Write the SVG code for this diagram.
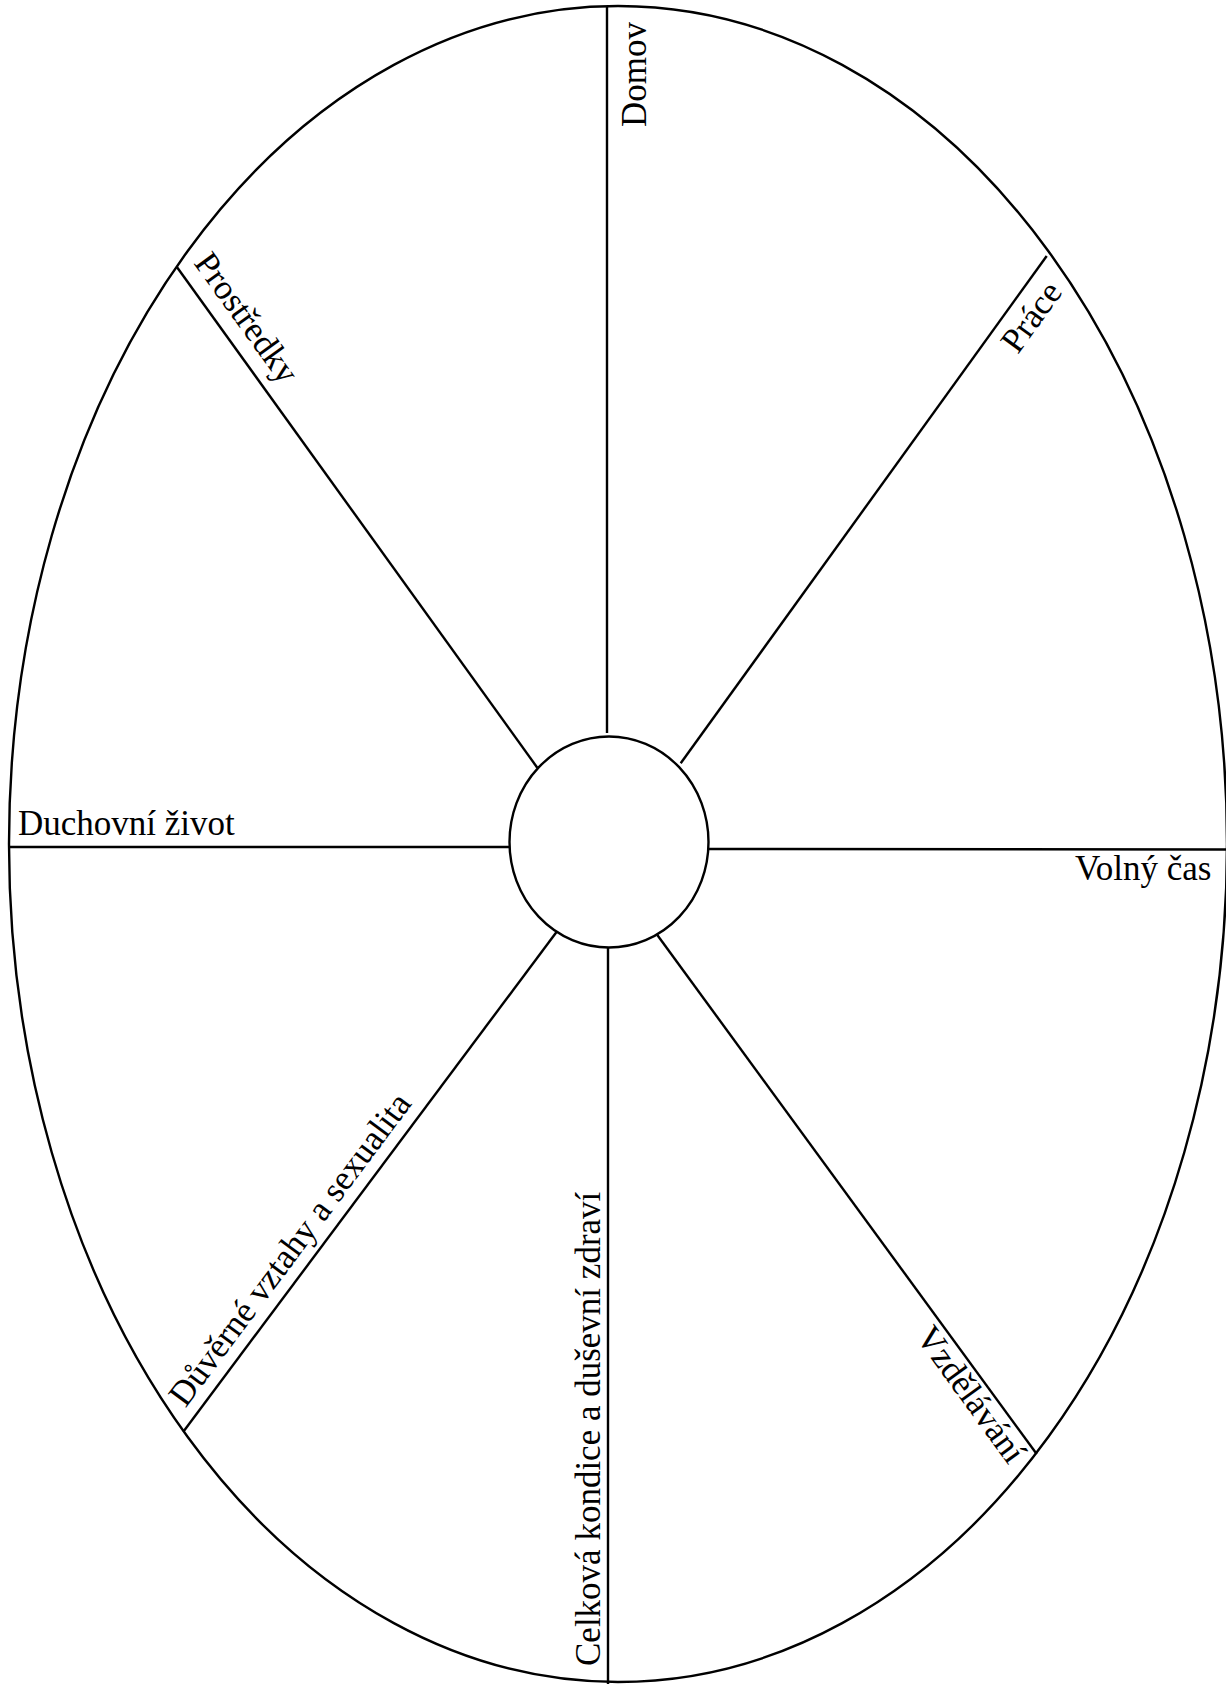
<svg xmlns="http://www.w3.org/2000/svg" width="1226" height="1684" viewBox="0 0 1226 1684">
<style>
.ln{stroke:#000;stroke-width:2.4;fill:none}
.lbl{font-family:"Liberation Serif","Times New Roman",serif;font-size:35px;fill:#000}
</style>
<rect width="1226" height="1684" fill="#fff"/>
<g id="outer"><ellipse class="ln" cx="618" cy="844" rx="609" ry="838"/></g>
<g id="connectors">
<line class="ln" x1="607" y1="7" x2="607" y2="733"/>
<line class="ln" x1="608" y1="947" x2="608" y2="1684"/>
<line class="ln" x1="9" y1="847" x2="509" y2="847"/>
<line class="ln" x1="708" y1="849" x2="1226" y2="849.5"/>
<line class="ln" x1="176.7" y1="266.7" x2="537.3" y2="767.7"/>
<line class="ln" x1="1046.7" y1="256" x2="680.7" y2="763.3"/>
<line class="ln" x1="657.3" y1="935" x2="1036.7" y2="1454"/>
<line class="ln" x1="556.7" y1="931.7" x2="183.3" y2="1431.7"/>
</g>
<g id="center"><ellipse class="ln" cx="609" cy="842" rx="99.5" ry="105.5" fill="#fff"/></g>
<g id="domov"><text class="lbl" transform="translate(646,127) rotate(-90)">Domov</text></g>
<g id="prace"><text class="lbl" text-anchor="middle" transform="translate(1040.5,323.5) rotate(-54)">Práce</text></g>
<g id="volny-cas"><text class="lbl" x="1075" y="880">Volný čas</text></g>
<g id="vzdelavani"><text class="lbl" text-anchor="end" transform="translate(1008.7,1465.7) rotate(54)">Vzdělávání</text></g>
<g id="celkova"><text class="lbl" transform="translate(600,1666) rotate(-90)">Celková kondice a duševní zdraví</text></g>
<g id="duverne"><text class="lbl" transform="translate(185.4,1408.4) rotate(-53.3)">Důvěrné vztahy a sexualita</text></g>
<g id="duchovni"><text class="lbl" x="18" y="835">Duchovní život</text></g>
<g id="prostredky"><text class="lbl" transform="translate(193,263) rotate(54.2)">Prostředky</text></g>
</svg>
